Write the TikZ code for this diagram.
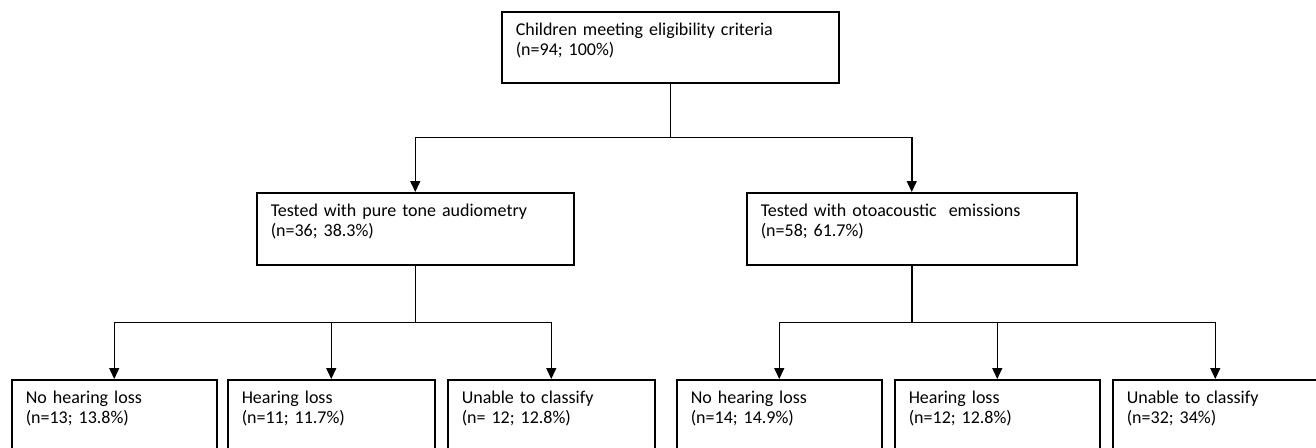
\documentclass[tikz,border=0pt]{standalone}
\usepackage{fontspec}
\setmainfont{Carlito}
\usetikzlibrary{arrows.meta}

\begin{document}
\begin{tikzpicture}[x=1pt,y=-1pt,line width=1.5pt,
		box/.style={draw, rectangle, anchor=north west, align=left, inner xsep=14pt, inner ysep=0pt,
			text height=24pt, text depth=#1, font=\fontsize{18}{20}\selectfont},
		box/.default=47pt,
		arr/.style={-{Triangle[width=10pt,length=11pt]}}]
			\useasboundingbox (0,0) rectangle (1316,447);
			\clip (0,0) rectangle (1316,447);
			% top and middle row
			\node[box, text width=309pt] (elig) at (501,11) {Children meeting eligibility criteria\\(n=94; 100\%)};
			\node[box=48pt, text width=289pt] (pta) at (256,192) {Tested with pure tone audiometry\\(n=36; 38.3\%)};
			\node[box=48pt, text width=302pt] (oae) at (746,192) {Tested with otoacoustic\ \ emissions\\(n=58; 61.7\%)};
			% bottom row
			\node[box, text width=177pt] (ptano) at (11,379) {No hearing loss\\(n=13; 13.8\%)};
			\node[box, text width=179pt] (ptahl) at (227,379) {Hearing loss\\(n=11; 11.7\%)};
			\node[box, text width=179pt] (ptauc) at (447,379) {Unable to classify\\(n= 12; 12.8\%)};
			\node[box, text width=177pt] (oaeno) at (676,379) {No hearing loss\\(n=14; 14.9\%)};
			\node[box, text width=177pt] (oaehl) at (894,379) {Hearing loss\\(n=12; 12.8\%)};
			\node[box, text width=177pt] (oaeuc) at (1112,379) {Unable to classify\\(n=32; 34\%)};
			% connectors
			\draw (elig.south) -- ++(0,54) coordinate (split);
			\draw[arr] (split) -| (pta.north);
			\draw[arr] (split) -| (oae.north);
			\draw (pta.south) -- ++(0,57) coordinate (ptasplit);
			\draw (oae.south) -- ++(0,57) coordinate (oaesplit);
			\foreach \n in {ptano,ptahl,ptauc}
				\draw[arr] (ptasplit) -| (\n.north);
			\foreach \n in {oaeno,oaehl,oaeuc}
				\draw[arr] (oaesplit) -| (\n.north);
		\end{tikzpicture}
\end{document}
